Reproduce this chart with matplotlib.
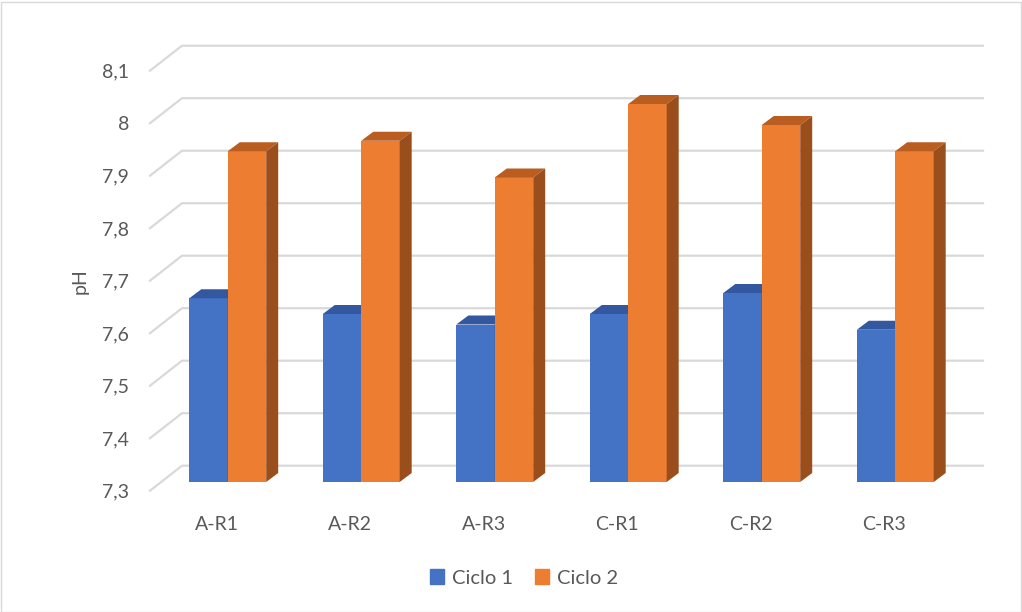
import numpy as np
import matplotlib
matplotlib.use('Agg')
import matplotlib.pyplot as plt
from matplotlib.patches import Polygon, Patch, Rectangle

# datos
categorias = ['A-R1', 'A-R2', 'A-R3', 'C-R1', 'C-R2', 'C-R3']
ciclo1 = [7.65, 7.62, 7.60, 7.62, 7.66, 7.59]
ciclo2 = [7.93, 7.95, 7.88, 8.02, 7.98, 7.93]
yticks = [7.3, 7.4, 7.5, 7.6, 7.7, 7.8, 7.9, 8.0, 8.1]
ytick_labels = ['7,3', '7,4', '7,5', '7,6', '7,7', '7,8', '7,9', '8', '8,1']

plt.rcParams['font.family'] = ['Lato', 'DejaVu Sans']
txt = '#595959'
grid_c = '#D9D9D9'
colores = {'front': ['#4472C4', '#ED7D31'],
           'top': ['#3358A0', '#B95D20'],
           'side': ['#2E5395', '#9A4E1C']}

W, H = 1022, 612
fig = plt.figure(figsize=(W / 100, H / 100), dpi=100)
ax = fig.add_axes([150 / W, 1 - 490.7 / H, 801 / W, 420 / H])
ax.set_xlim(-0.5, len(categorias) - 0.5)
ax.set_ylim(7.3, 8.1)
for s in ax.spines.values():
    s.set_visible(False)
ax.patch.set_visible(False)


def px_a_datos(dx, dy):
    # desplazamiento en pixeles -> unidades de datos
    p0 = ax.transData.transform((0, 7.3))
    p1 = ax.transData.inverted().transform(p0 + np.array([dx, dy]))
    return p1[0] - 0, p1[1] - 7.3


fondo = px_a_datos(32, 25)      # pared del fondo
frente = px_a_datos(11, 8.7)    # plano frontal de las barras
prof = px_a_datos(12, 9)        # profundidad de cada barra

# cuadricula en la pared del fondo
x0, x1 = -0.5, len(categorias) - 0.5
for v in yticks:
    ax.plot([x0, x0 + fondo[0], x1 + fondo[0]], [v, v + fondo[1], v + fondo[1]],
            color=grid_c, lw=1.6, zorder=1, clip_on=False)

ancho = 0.288
x = np.arange(len(categorias))
for i in range(len(categorias)):
    for j, serie in enumerate([ciclo1, ciclo2]):
        v = serie[i]
        xl = x[i] + frente[0] + (j - 1) * ancho
        xr = xl + ancho
        yb = 7.3 + frente[1]
        yt = v + frente[1]
        z = 3 + i * 2 + j
        ax.bar(xl, yt - yb, width=ancho, bottom=yb, align='edge',
               color=colores['front'][j], zorder=z, clip_on=False)
        ax.add_patch(Polygon([(xl, yt), (xr, yt), (xr + prof[0], yt + prof[1]),
                              (xl + prof[0], yt + prof[1])],
                             closed=True, color=colores['top'][j], lw=0,
                             zorder=z, clip_on=False))
        ax.add_patch(Polygon([(xr, yb), (xr + prof[0], yb + prof[1]),
                              (xr + prof[0], yt + prof[1]), (xr, yt)],
                             closed=True, color=colores['side'][j], lw=0,
                             zorder=z, clip_on=False))

ax.set_yticks(yticks)
ax.set_yticklabels(ytick_labels)
ax.set_xticks(x)
ax.set_xticklabels(categorias)
ax.tick_params(axis='y', length=0, pad=15, labelsize=14, labelcolor=txt)
ax.tick_params(axis='x', length=0, pad=18, labelsize=14, labelcolor=txt)
ax.set_ylabel('pH', fontsize=14, color=txt, labelpad=10)

handles = [Patch(color=colores['front'][0], label='Ciclo 1'),
           Patch(color=colores['front'][1], label='Ciclo 2')]
fig.legend(handles=handles, loc='center', bbox_to_anchor=(524 / W, 1 - 578 / H),
           ncol=2, frameon=False, fontsize=14.5, labelcolor=txt,
           handlelength=0.7, handleheight=0.7, handletextpad=0.4, columnspacing=1.1)

# borde del grafico
fig.add_artist(Rectangle((0.5 / W, 0.5 / H), 1 - 2 / W, 1 - 2 / H,
                         transform=fig.transFigure, fill=False, ec=grid_c, lw=1))

fig.savefig('out.png', dpi=100)
